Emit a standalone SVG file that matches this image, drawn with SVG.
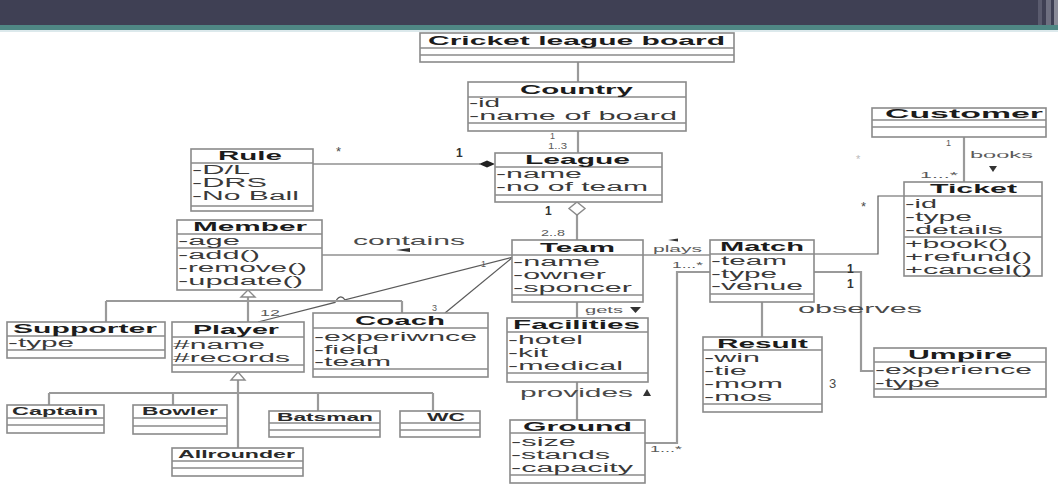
<svg xmlns="http://www.w3.org/2000/svg" width="1058" height="484" viewBox="0 0 1058 484">
<style>
.box{fill:#fff;stroke:#8a8a8a;stroke-width:1.6}
.sep{stroke:#8a8a8a;stroke-width:1.4}
.t{font-family:"Liberation Sans",Arial,sans-serif;font-weight:bold;font-size:13px;fill:#1c1c1c}
.ts{font-family:"Liberation Sans",Arial,sans-serif;font-weight:bold;font-size:11px;fill:#2a2a2a}
.a{font-family:"Liberation Sans",Arial,sans-serif;font-size:12px;fill:#3a3a3a}
.l{font-family:"Liberation Sans",Arial,sans-serif;font-size:13px;fill:#4a4a4a}
.s{font-family:"Liberation Sans",Arial,sans-serif;font-size:9px;fill:#5a5a5a}
.b{font-family:"Liberation Sans",Arial,sans-serif;font-weight:bold;font-size:12px;fill:#333}
.thick{fill:none;stroke:#9a9a9a;stroke-width:2.2}
.thin{fill:none;stroke:#5a5a5a;stroke-width:1.2}
.tri{fill:#fff;stroke:#8a8a8a;stroke-width:1.4}
</style>
<g id="banner">
<rect x="0" y="0" width="1058" height="25" fill="#3f4054"/>
<rect x="0" y="25" width="1058" height="5" fill="#4f8784"/>
<rect x="0" y="30" width="1058" height="2" fill="#dce9ec"/>
<rect x="1038" y="0" width="4" height="25" fill="#5a5b6e"/>
<rect x="1046" y="0" width="5" height="25" fill="#6e6f80"/>
<rect x="1054" y="0" width="4" height="25" fill="#8a8b98"/>
</g>
<g id="connectors">
<path class="thick" d="M578 62V82"/>
<path class="thick" d="M578 131V153"/>
<path class="thick" d="M577 215V240"/>
<polygon points="577,202 585,208.5 577,215 569,208.5" class="tri"/>
<path class="thin" d="M313 164H480"/>
<polygon points="495,164 487,160.5 479,164 487,167.5" fill="#222"/>
<path class="thin" d="M322 255H512"/>
<path class="thin" d="M513 257L345 299.8Q340 293 335 302.4L258 322"/>
<path class="thin" d="M513 257L445 313"/>
<path class="thick" d="M577 302V318"/>
<path class="thick" d="M577 382V420"/>
<path class="thin" d="M643 255H710"/>
<path class="thick" d="M645 443H677V272H710"/>
<path class="thin" d="M814 254H878V196H904"/>
<path class="thick" d="M814 272H861V371H874"/>
<path class="thick" d="M762 302V337"/>
<path class="thick" d="M964 137V182"/>
<path class="thick" d="M248 297V322M106 301H402M106 301V322M402 301V313"/>
<polygon points="248,290 255,297 241,297" class="tri"/>
<path class="thick" d="M238 380V448M49 393H433M49 393V405M173 393V405M318 393V411M433 393V411"/>
<polygon points="238,372 245,380 231,380" class="tri"/>
<text class="s" x="550" y="139">1</text>
<text class="s" x="548" y="149" textLength="19" lengthAdjust="spacingAndGlyphs">1..3</text>
<text class="b" x="456" y="157">1</text>
<text class="l" x="336" y="156" font-size="12">*</text>
<text class="b" x="545" y="215" font-size="11">1</text>
<text class="s" x="541" y="236" textLength="24" lengthAdjust="spacingAndGlyphs">2..8</text>
<text class="l" x="353" y="245" textLength="112" lengthAdjust="spacingAndGlyphs">contains</text>
<polygon points="396,250 410,248 410,252" fill="#333"/>
<text class="s" x="481" y="267">1</text>
<text class="s" x="260" y="316" textLength="20" lengthAdjust="spacingAndGlyphs">12</text>
<text class="s" x="432" y="311">3</text>
<text class="s" x="653" y="252" font-size="11" textLength="49" lengthAdjust="spacingAndGlyphs">plays</text>
<polygon points="668,240 678,238.5 678,241.5" fill="#333"/>
<text class="s" x="672" y="268" font-size="8" textLength="31" lengthAdjust="spacingAndGlyphs">1...*</text>
<text class="s" x="650" y="452" font-size="8" textLength="32" lengthAdjust="spacingAndGlyphs">1...*</text>
<text class="s" x="585" y="313" font-size="10" textLength="38" lengthAdjust="spacingAndGlyphs">gets</text>
<polygon points="630,307 641,307 635.5,313" fill="#333"/>
<text class="l" x="520" y="397" textLength="113" lengthAdjust="spacingAndGlyphs">provides</text>
<polygon points="647,389 651,396 643,396" fill="#333"/>
<text class="l" x="861" y="211" font-size="12">*</text>
<text class="b" x="847" y="273">1</text>
<text class="b" x="847" y="288">1</text>
<text class="l" x="798" y="313" textLength="124" lengthAdjust="spacingAndGlyphs">observes</text>
<text class="l" x="829" y="388" font-size="14">3</text>
<text class="s" x="946" y="146" font-size="10">1</text>
<text class="s" x="970" y="158" font-size="11" textLength="63" lengthAdjust="spacingAndGlyphs">books</text>
<polygon points="989,166 997,166 993,172" fill="#333"/>
<text class="s" x="920" y="178" textLength="38" lengthAdjust="spacingAndGlyphs">1...*</text>
<text x="856" y="163" font-family="Liberation Sans,sans-serif" font-size="11" fill="#bbb">*</text>
</g>
<g id="board">
<rect class="box" x="420" y="33" width="314" height="29"/>
<path class="sep" d="M420 48H734M420 55H734"/>
<text class="t" x="428" y="45" textLength="297" lengthAdjust="spacingAndGlyphs">Cricket league board</text>
</g>
<g id="country">
<rect class="box" x="468" y="82" width="218" height="49"/>
<path class="sep" d="M468 97H686M468 123H686"/>
<text class="t" x="520" y="94" textLength="113" lengthAdjust="spacingAndGlyphs">Country</text>
<text class="a" x="469" y="107" textLength="31" lengthAdjust="spacingAndGlyphs">-id</text>
<text class="a" x="469" y="120" textLength="208" lengthAdjust="spacingAndGlyphs">-name of board</text>
</g>
<g id="league">
<rect class="box" x="495" y="153" width="167" height="49"/>
<path class="sep" d="M495 167H662M495 195H662"/>
<text class="t" x="525" y="164" textLength="105" lengthAdjust="spacingAndGlyphs">League</text>
<text class="a" x="496" y="178" textLength="86" lengthAdjust="spacingAndGlyphs">-name</text>
<text class="a" x="496" y="191" textLength="152" lengthAdjust="spacingAndGlyphs">-no of team</text>
</g>
<g id="rule">
<rect class="box" x="191" y="149" width="122" height="62"/>
<path class="sep" d="M191 163H313M191 206H313"/>
<text class="t" x="218" y="160" textLength="64" lengthAdjust="spacingAndGlyphs">Rule</text>
<text class="a" x="192" y="174" textLength="58" lengthAdjust="spacingAndGlyphs">-D/L</text>
<text class="a" x="192" y="187" textLength="75" lengthAdjust="spacingAndGlyphs">-DRS</text>
<text class="a" x="192" y="200" textLength="107" lengthAdjust="spacingAndGlyphs">-No Ball</text>
</g>
<g id="member">
<rect class="box" x="177" y="220" width="145" height="70"/>
<path class="sep" d="M177 234H322M177 248H322"/>
<text class="t" x="193" y="231" textLength="114" lengthAdjust="spacingAndGlyphs">Member</text>
<text class="a" x="178" y="245" textLength="62" lengthAdjust="spacingAndGlyphs">-age</text>
<text class="a" x="178" y="259" textLength="82" lengthAdjust="spacingAndGlyphs">-add()</text>
<text class="a" x="178" y="272" textLength="129" lengthAdjust="spacingAndGlyphs">-remove()</text>
<text class="a" x="178" y="285" textLength="125" lengthAdjust="spacingAndGlyphs">-update()</text>
</g>
<g id="team">
<rect class="box" x="512" y="240" width="131" height="62"/>
<path class="sep" d="M512 255H643M512 295H643"/>
<text class="t" x="540" y="252" textLength="75" lengthAdjust="spacingAndGlyphs">Team</text>
<text class="a" x="513" y="266" textLength="87" lengthAdjust="spacingAndGlyphs">-name</text>
<text class="a" x="513" y="279" textLength="93" lengthAdjust="spacingAndGlyphs">-owner</text>
<text class="a" x="513" y="292" textLength="119" lengthAdjust="spacingAndGlyphs">-sponcer</text>
</g>
<g id="match">
<rect class="box" x="710" y="240" width="104" height="62"/>
<path class="sep" d="M710 254H814M710 294H814"/>
<text class="t" x="720" y="251" textLength="84" lengthAdjust="spacingAndGlyphs">Match</text>
<text class="a" x="711" y="265" textLength="76" lengthAdjust="spacingAndGlyphs">-team</text>
<text class="a" x="711" y="278" textLength="66" lengthAdjust="spacingAndGlyphs">-type</text>
<text class="a" x="711" y="290" textLength="92" lengthAdjust="spacingAndGlyphs">-venue</text>
</g>
<g id="customer">
<rect class="box" x="872" y="108" width="174" height="29"/>
<path class="sep" d="M872 120H1046M872 127H1046"/>
<text class="t" x="885" y="118" textLength="158" lengthAdjust="spacingAndGlyphs">Customer</text>
</g>
<g id="ticket">
<rect class="box" x="904" y="182" width="138" height="94"/>
<path class="sep" d="M904 196H1042M904 237H1042"/>
<text class="t" x="930" y="193" textLength="87" lengthAdjust="spacingAndGlyphs">Ticket</text>
<text class="a" x="905" y="208" textLength="32" lengthAdjust="spacingAndGlyphs">-id</text>
<text class="a" x="905" y="221" textLength="67" lengthAdjust="spacingAndGlyphs">-type</text>
<text class="a" x="905" y="234" textLength="98" lengthAdjust="spacingAndGlyphs">-details</text>
<text class="a" x="905" y="248" textLength="103" lengthAdjust="spacingAndGlyphs">+book()</text>
<text class="a" x="905" y="261" textLength="127" lengthAdjust="spacingAndGlyphs">+refund()</text>
<text class="a" x="905" y="274" textLength="127" lengthAdjust="spacingAndGlyphs">+cancel()</text>
</g>
<g id="supporter">
<rect class="box" x="7" y="322" width="158" height="36"/>
<path class="sep" d="M7 336H165M7 350H165"/>
<text class="t" x="13" y="333" textLength="144" lengthAdjust="spacingAndGlyphs">Supporter</text>
<text class="a" x="8" y="347" textLength="66" lengthAdjust="spacingAndGlyphs">-type</text>
</g>
<g id="player">
<rect class="box" x="172" y="322" width="132" height="50"/>
<path class="sep" d="M172 337H304M172 365H304"/>
<text class="t" x="193" y="334" textLength="86" lengthAdjust="spacingAndGlyphs">Player</text>
<text class="a" x="173" y="349" textLength="92" lengthAdjust="spacingAndGlyphs">#name</text>
<text class="a" x="173" y="362" textLength="117" lengthAdjust="spacingAndGlyphs">#records</text>
</g>
<g id="coach">
<rect class="box" x="313" y="313" width="175" height="64"/>
<path class="sep" d="M313 328H488M313 369H488"/>
<text class="t" x="355" y="325" textLength="90" lengthAdjust="spacingAndGlyphs">Coach</text>
<text class="a" x="314" y="341" textLength="163" lengthAdjust="spacingAndGlyphs">-experiwnce</text>
<text class="a" x="314" y="354" textLength="65" lengthAdjust="spacingAndGlyphs">-field</text>
<text class="a" x="314" y="366" textLength="77" lengthAdjust="spacingAndGlyphs">-team</text>
</g>
<g id="facilities">
<rect class="box" x="507" y="318" width="141" height="64"/>
<path class="sep" d="M507 332H648M507 373H648"/>
<text class="t" x="513" y="329" textLength="127" lengthAdjust="spacingAndGlyphs">Facilities</text>
<text class="a" x="508" y="344" textLength="75" lengthAdjust="spacingAndGlyphs">-hotel</text>
<text class="a" x="508" y="357" textLength="40" lengthAdjust="spacingAndGlyphs">-kit</text>
<text class="a" x="508" y="370" textLength="115" lengthAdjust="spacingAndGlyphs">-medical</text>
</g>
<g id="ground">
<rect class="box" x="510" y="420" width="135" height="63"/>
<path class="sep" d="M510 433H645M510 475H645"/>
<text class="t" x="523" y="431" textLength="109" lengthAdjust="spacingAndGlyphs">Ground</text>
<text class="a" x="511" y="446" textLength="65" lengthAdjust="spacingAndGlyphs">-size</text>
<text class="a" x="511" y="459" textLength="99" lengthAdjust="spacingAndGlyphs">-stands</text>
<text class="a" x="511" y="472" textLength="122" lengthAdjust="spacingAndGlyphs">-capacity</text>
</g>
<g id="result">
<rect class="box" x="703" y="337" width="119" height="75"/>
<path class="sep" d="M703 350H822M703 404H822"/>
<text class="t" x="717" y="348" textLength="91" lengthAdjust="spacingAndGlyphs">Result</text>
<text class="a" x="704" y="362" textLength="56" lengthAdjust="spacingAndGlyphs">-win</text>
<text class="a" x="704" y="375" textLength="43" lengthAdjust="spacingAndGlyphs">-tie</text>
<text class="a" x="704" y="388" textLength="79" lengthAdjust="spacingAndGlyphs">-mom</text>
<text class="a" x="704" y="401" textLength="68" lengthAdjust="spacingAndGlyphs">-mos</text>
</g>
<g id="umpire">
<rect class="box" x="874" y="348" width="172" height="49"/>
<path class="sep" d="M874 362H1046M874 389H1046"/>
<text class="t" x="908" y="359" textLength="104" lengthAdjust="spacingAndGlyphs">Umpire</text>
<text class="a" x="875" y="374" textLength="157" lengthAdjust="spacingAndGlyphs">-experience</text>
<text class="a" x="875" y="387" textLength="65" lengthAdjust="spacingAndGlyphs">-type</text>
</g>
<g id="captain">
<rect class="box" x="7" y="405" width="97" height="28"/>
<path class="sep" d="M7 418H104M7 425H104"/>
<text class="ts" x="12" y="415" textLength="86" lengthAdjust="spacingAndGlyphs">Captain</text>
</g>
<g id="bowler">
<rect class="box" x="133" y="405" width="94" height="29"/>
<path class="sep" d="M133 418H227M133 426H227"/>
<text class="ts" x="142" y="415" textLength="76" lengthAdjust="spacingAndGlyphs">Bowler</text>
</g>
<g id="batsman">
<rect class="box" x="269" y="411" width="111" height="26"/>
<path class="sep" d="M269 423H380M269 430H380"/>
<text class="ts" x="277" y="421" textLength="96" lengthAdjust="spacingAndGlyphs">Batsman</text>
</g>
<g id="wc">
<rect class="box" x="400" y="411" width="80" height="26"/>
<path class="sep" d="M400 423H480M400 430H480"/>
<text class="ts" x="427" y="421" textLength="38" lengthAdjust="spacingAndGlyphs">WC</text>
</g>
<g id="allrounder">
<rect class="box" x="172" y="448" width="131" height="28"/>
<path class="sep" d="M172 461H303M172 468H303"/>
<text class="ts" x="178" y="458" textLength="117" lengthAdjust="spacingAndGlyphs">Allrounder</text>
</g>
</svg>
